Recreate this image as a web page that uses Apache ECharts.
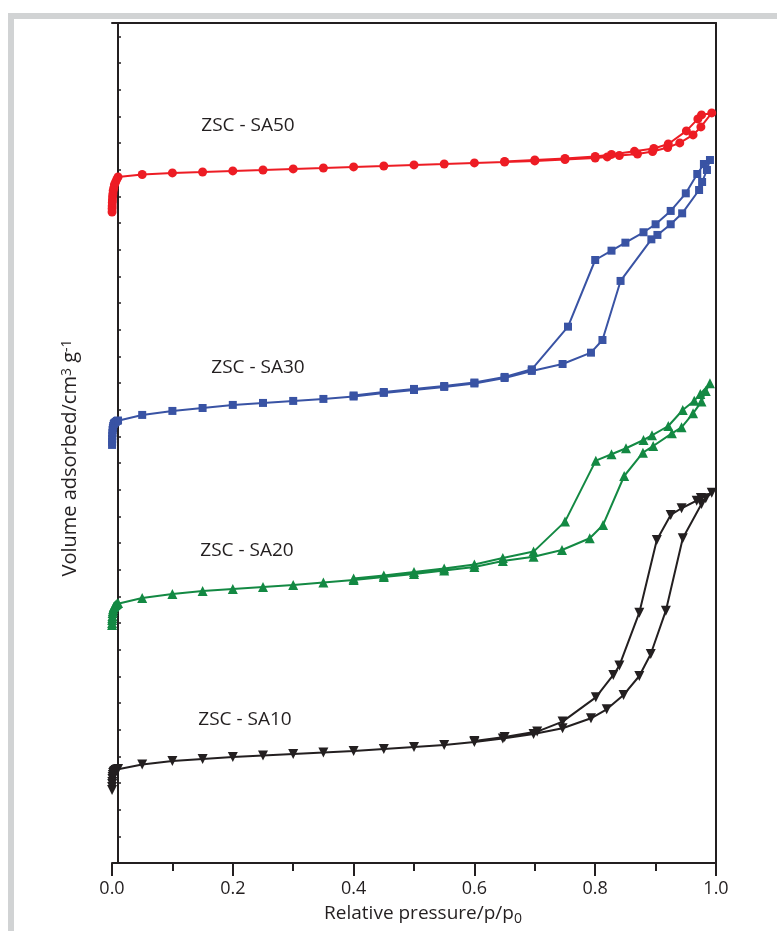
<!DOCTYPE html>
<html>
<head>
<meta charset="utf-8">
<script src="https://cdn.jsdelivr.net/npm/echarts@6/dist/echarts.min.js"></script>
<style>
html,body{margin:0;padding:0;background:#fff;}
#chart{width:777px;height:931px;}
</style>
</head>
<body>
<div id="chart"></div>
<script>
// ---------- data (relative pressure p/p0, volume adsorbed, offset isotherms) ----------
const xTickLabels = ['0.0', '0.2', '0.4', '0.6', '0.8', '1.0'];
const sampleNames = ['ZSC - SA50', 'ZSC - SA30', 'ZSC - SA20', 'ZSC - SA10'];

// shared low-pressure adsorption points (micropore filling region)
const lowP = [0.0001,0.0002,0.0003,0.0005,0.0007,0.001,0.0015,0.002,0.003,0.004,0.006,0.008,0.01];

// ZSC - SA50 (red, circles)
const sa50LowV = [504,506.5,508.5,511,513,515.5,517.5,520,522,524.5,526.5,528.5,530.3];
const sa50AdsP = [0.05,0.1,0.15,0.2,0.25,0.3,0.35,0.4,0.45,0.5,0.55,0.6,0.65,0.7,0.75,0.8,0.82,0.84,0.87,0.895,0.92,0.94,0.962,0.975,0.993];
const sa50AdsV = [532.1,533.3,534,534.8,535.5,536.3,537,537.8,538.5,539.3,540,540.8,541.5,542.3,543.4,544.5,545.3,546.4,547.5,549.4,552.4,555.8,561.8,567.8,578.3];
const sa50DesP = [0.976,0.97,0.951,0.921,0.897,0.865,0.827,0.8,0.75,0.7,0.65];
const sa50DesV = [576.8,573.8,564.8,555,551.6,549.5,547.2,545.6,544.1,543,541.9];

// ZSC - SA30 (blue, squares)
const sa30LowV = [329.3,331.5,333.8,336,338.3,340.5,342,343.5,345,345.8,346.5,347.3,347.6];
const sa30AdsP = [0.05,0.1,0.15,0.2,0.25,0.3,0.35,0.4,0.45,0.5,0.55,0.6,0.65,0.695,0.746,0.793,0.812,0.842,0.893,0.903,0.925,0.944,0.972,0.977,0.985,0.99];
const sa30AdsV = [351.8,354.8,357,359.3,360.8,362.3,363.8,365.6,368.3,370.5,372.8,375.4,379.5,384.8,390,398.5,408,452.3,483.5,486.8,494.8,503,520.5,526.5,535.5,543];
const sa30DesP = [0.98,0.969,0.95,0.925,0.9,0.88,0.85,0.827,0.8,0.755,0.695,0.65,0.6,0.55,0.5,0.45,0.4];
const sa30DesV = [540,532.5,518,504.8,494.8,488.8,481,475,468,418,386,380.3,376.1,373.5,371.3,369,366.4];

// ZSC - SA20 (green, triangles)
const sa20LowV = [194.3,195.8,198,199.5,201,203.3,204.8,206.3,207.8,208.5,209.3,210,210.8];
const sa20AdsP = [0.05,0.1,0.15,0.2,0.25,0.3,0.35,0.4,0.45,0.5,0.55,0.6,0.647,0.698,0.745,0.791,0.813,0.848,0.879,0.896,0.927,0.943,0.962,0.976,0.983,0.99];
const sa20AdsV = [214.5,217.5,219.8,221.3,222.8,224.3,226.1,228,230.3,232.5,235.1,237.8,242.3,245.5,250.5,259.3,269.3,306,323.5,328.5,338,342.5,353,361.8,369.8,375.5];
const sa20DesP = [0.974,0.964,0.945,0.921,0.894,0.88,0.851,0.827,0.801,0.75,0.698,0.647,0.6,0.55,0.5,0.45,0.4];
const sa20DesV = [367.5,362.5,355.5,343.5,336.5,333,326.8,322.3,317.5,271.8,249.3,244.5,239.6,236.6,234,231.4,229.1];

// ZSC - SA10 (black, inverted triangles)
const sa10LowV = [70.5,72.8,75,76.5,78.8,80.3,81.8,83.3,84,84.8,85.5,85.9,86.3];
const sa10AdsP = [0.05,0.1,0.15,0.2,0.25,0.3,0.35,0.4,0.45,0.5,0.55,0.6,0.647,0.698,0.746,0.793,0.819,0.847,0.873,0.892,0.917,0.945,0.976,0.983,0.993];
const sa10AdsV = [89.6,92.3,93.8,95.3,96.4,97.5,98.6,99.8,101.3,102.8,104.3,106.5,109.1,112.5,116.8,124.3,131,141.8,156,172.5,205,259.3,285,289.3,293.5];
const sa10DesP = [0.975,0.968,0.943,0.925,0.902,0.873,0.84,0.83,0.801,0.746,0.704,0.65,0.6];
const sa10DesV = [289.5,287.5,281.8,276.8,258,203.5,163.8,156.8,140,121.8,114.3,110.3,107.3];

// ---------- styling ----------
const FONT = '"Open Sans", "Noto Sans", sans-serif';
const INK = '#231f20';
const COLORS = ['#ed1c24', '#3953a4', '#138943', '#231f20'];

function pairs(p, v) { return p.map((x, i) => [x, v[i]]); }
function loop(lowV, aP, aV, dP, dV) {
  return pairs(lowP, lowV).concat(pairs(aP, aV), pairs(dP, dV));
}

const loops = [
  loop(sa50LowV, sa50AdsP, sa50AdsV, sa50DesP, sa50DesV),
  loop(sa30LowV, sa30AdsP, sa30AdsV, sa30DesP, sa30DesV),
  loop(sa20LowV, sa20AdsP, sa20AdsV, sa20DesP, sa20DesV),
  loop(sa10LowV, sa10AdsP, sa10AdsV, sa10DesP, sa10DesV)
];
const symbols = ['circle', 'rect', 'triangle', 'triangle'];
const symbolSizes = [9, 8, 10, 10];
const symbolRotates = [0, 0, 0, 180];

const labelPos = [[248, 126], [258, 368], [247, 551], [245, 720]];

const chart = echarts.init(document.getElementById('chart'), null, {renderer: 'canvas'});

const option = {
  animation: false,
  backgroundColor: '#ffffff',
  grid: {left: 112, right: 61, top: 23, bottom: 68, containLabel: false},
  xAxis: [
    {
      type: 'value', min: 0, max: 1, interval: 0.2, position: 'bottom',
      axisLine: {show: true, onZero: false, lineStyle: {color: INK, width: 2}},
      axisTick: {show: true, length: 13, lineStyle: {color: INK, width: 2}},
      minorTick: {show: true, splitNumber: 2, length: 8, lineStyle: {color: INK, width: 2}},
      splitLine: {show: false}, minorSplitLine: {show: false},
      axisLabel: {
        fontSize: 18, color: INK, fontFamily: FONT, margin: 17,
        formatter: (v) => xTickLabels[Math.round(v / 0.2)]
      },
      name: 'Relative pressure/p/p{sub|0}',
      nameLocation: 'middle', nameGap: 39,
      nameTextStyle: {
        fontSize: 19, color: INK, fontFamily: FONT, padding: [0, 0, 0, 18],
        rich: {sub: {fontSize: 14, color: INK, fontFamily: FONT, verticalAlign: 'bottom', padding: [10, 0, 0, 0]}}
      }
    },
    {
      type: 'value', min: 0, max: 1, position: 'top',
      axisLine: {show: true, onZero: false, lineStyle: {color: INK, width: 2}},
      axisTick: {show: false}, axisLabel: {show: false}, splitLine: {show: false}
    }
  ],
  yAxis: [
    {
      type: 'value', min: 15.75, max: 645.75, interval: 20, position: 'left', offset: -6,
      axisLine: {show: true, onZero: false, lineStyle: {color: INK, width: 2}},
      axisTick: {show: true, inside: true, length: 3, lineStyle: {color: INK, width: 1.5}},
      axisLabel: {show: false}, splitLine: {show: false},
      name: 'Volume adsorbed/cm{sup|3} g{sup|-1}',
      nameLocation: 'middle', nameRotate: 90, nameGap: 38,
      nameTextStyle: {
        fontSize: 20, color: INK, fontFamily: FONT, padding: [0, 30, 0, 0],
        rich: {sup: {fontSize: 14, color: INK, fontFamily: FONT, verticalAlign: 'top'}}
      }
    },
    {
      type: 'value', min: 15.75, max: 645.75, position: 'right',
      axisLine: {show: true, onZero: false, lineStyle: {color: INK, width: 2}},
      axisTick: {show: false}, axisLabel: {show: false}, splitLine: {show: false}
    }
  ],
  series: loops.map((d, i) => ({
    name: sampleNames[i],
    type: 'line',
    data: d,
    xAxisIndex: 0, yAxisIndex: 0,
    symbol: symbols[i],
    symbolSize: symbolSizes[i],
    symbolRotate: symbolRotates[i],
    showAllSymbol: true,
    clip: false,
    lineStyle: {color: COLORS[i], width: 2},
    itemStyle: {color: COLORS[i], borderWidth: 0},
    z: 10 - i
  })),
  graphic: [
    {type: 'rect', shape: {x: 8, y: 13, width: 769, height: 6}, style: {fill: '#d1d3d4'}, silent: true},
    {type: 'rect', shape: {x: 8, y: 13, width: 6, height: 918}, style: {fill: '#d1d3d4'}, silent: true}
  ].concat(sampleNames.map((n, i) => ({
    type: 'text', x: labelPos[i][0], y: labelPos[i][1], silent: true,
    style: {text: n, fill: INK, fontSize: 19, fontFamily: FONT, align: 'center', verticalAlign: 'middle'}
  })))
};

chart.setOption(option);
</script>
</body>
</html>
